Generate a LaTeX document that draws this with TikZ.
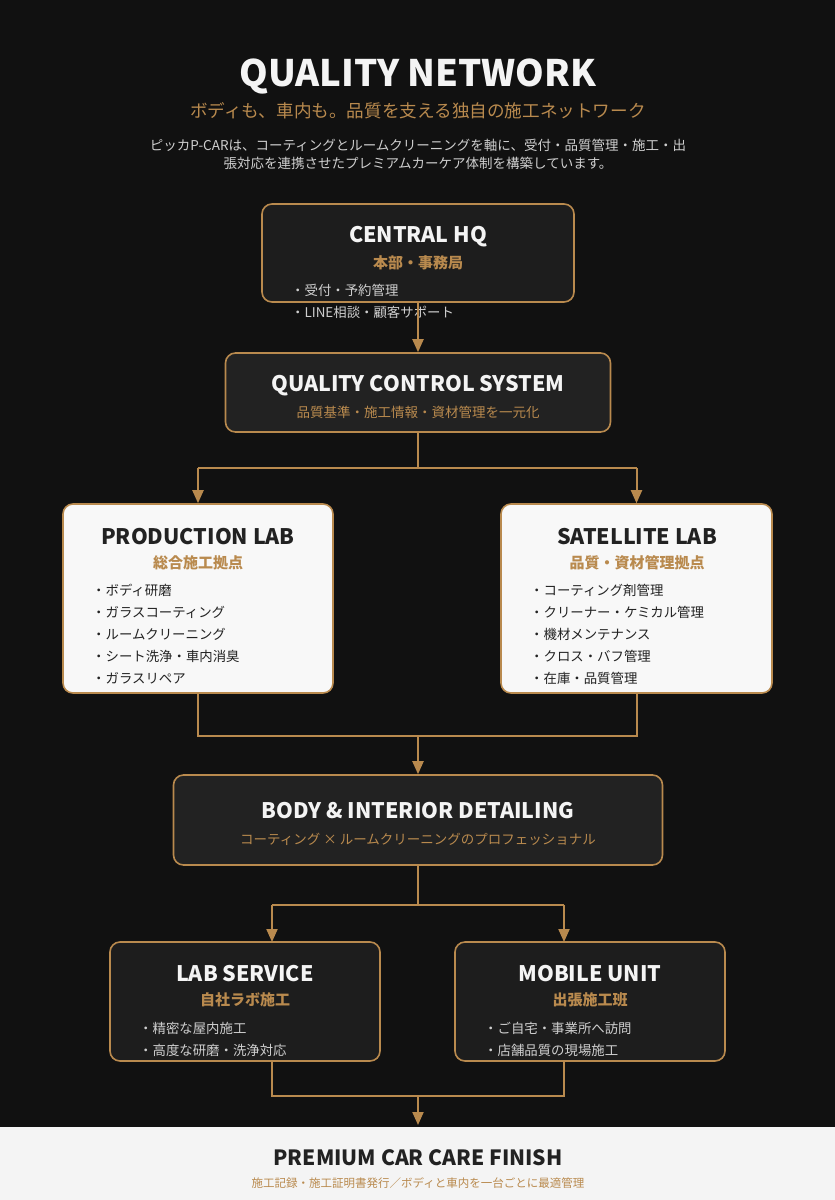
\documentclass[tikz,border=0pt]{standalone}
\usepackage{fontspec}
\setmainfont{Noto Sans CJK JP}
\usetikzlibrary{arrows.meta}
\definecolor{bg}{HTML}{111111}
\definecolor{gold}{HTML}{B98A4E}
\definecolor{boxdark}{HTML}{1D1D1D}
\definecolor{boxmid}{HTML}{222222}
\definecolor{boxlight}{HTML}{F8F8F8}
\definecolor{band}{HTML}{F4F4F4}
\definecolor{txtw}{HTML}{F4F4F4}
\definecolor{txtg}{HTML}{CFCFCF}
\definecolor{txtd}{HTML}{222222}
\tikzset{
  box/.style={draw=gold, line width=1.6pt, rounded corners=10pt, inner sep=0pt},
  ln/.style={draw=gold, line width=2pt},
  arr/.style={draw=gold, line width=2pt, -{Triangle[width=11pt,length=13pt]}},
  ttlw/.style={text=txtw, font=\fontsize{21.4}{25}\selectfont\bfseries, inner sep=0pt},
  ttld/.style={text=txtd, font=\fontsize{21.4}{25}\selectfont\bfseries, inner sep=0pt},
  subb/.style={text=gold, font=\fontsize{15}{18}\selectfont\bfseries, inner sep=0pt},
  subr/.style={text=gold, font=\fontsize{13.5}{16}\selectfont, inner sep=0pt},
  bulw/.style={text=txtg, font=\fontsize{13.4}{16}\selectfont, inner sep=0pt, anchor=west},
  buld/.style={text=txtd, font=\fontsize{13.4}{16}\selectfont, inner sep=0pt, anchor=west},
}
\begin{document}
\begin{tikzpicture}[x=1pt,y=-1pt]
\useasboundingbox (0,0) rectangle (835,1200);
\fill[bg] (0,0) rectangle (835,1127);
\fill[band] (0,1127) rectangle (835,1200);

% header
\node[text=txtw, font=\fontsize{36.5}{42}\selectfont\bfseries, inner sep=0pt] (title) at (418,76) {QUALITY NETWORK};
\node[text=gold, font=\fontsize{17.6}{20}\selectfont, inner sep=0pt] (subtitle) at (418,111) {ボディも、車内も。品質を支える独自の施工ネットワーク};
\node[text=txtg, font=\fontsize{13.5}{18}\selectfont, inner sep=0pt, align=center] (desc) at (418,154) {ピッカP-CARは、コーティングとルームクリーニングを軸に、受付・品質管理・施工・出\\張対応を連携させたプレミアムカーケア体制を構築しています。};

% boxes
\node[box, fill=boxdark, minimum width=312pt, minimum height=98pt] (hq) at (418,253) {};
\node[box, fill=boxmid, minimum width=385pt, minimum height=79pt] (qcs) at (418,392.5) {};
\node[box, fill=boxlight, minimum width=270pt, minimum height=189pt] (prod) at (198,598.5) {};
\node[box, fill=boxlight, minimum width=271pt, minimum height=189pt] (sat) at (636.5,598.5) {};
\node[box, fill=boxmid, minimum width=489pt, minimum height=90pt] (body) at (418,820) {};
\node[box, fill=boxdark, minimum width=270pt, minimum height=119pt] (lab) at (245,1001.5) {};
\node[box, fill=boxdark, minimum width=270pt, minimum height=119pt] (mob) at (590,1001.5) {};
\coordinate (fin) at (418,1125);
\coordinate (labIn) at (272,942);
\coordinate (mobIn) at (564,942);
\coordinate (labOut) at (272,1061);
\coordinate (mobOut) at (564,1061);

% texts in boxes
\node[ttlw] (hqT) at (418,237) {CENTRAL HQ};
\node[subb] (hqS) at (418,262.5) {本部・事務局};
\node[bulw] (hqB1) at (291,290) {・受付・予約管理};
\node[bulw] (hqB2) at (291,312) {・LINE相談・顧客サポート};

\node[ttlw] (qcsT) at (418,386) {QUALITY CONTROL SYSTEM};
\node[subr] (qcsS) at (418,412) {品質基準・施工情報・資材管理を一元化};

\node[ttld] (prodT) at (198,537) {PRODUCTION LAB};
\node[subb] (prodS) at (198,562.5) {総合施工拠点};
\foreach \t [count=\i] in {ボディ研磨,ガラスコーティング,ルームクリーニング,シート洗浄・車内消臭,ガラスリペア}
  \node[buld] (prodB\i) at (92,568+22*\i) {・\t};

\node[ttld] (satT) at (637,537) {SATELLITE LAB};
\node[subb] (satS) at (637,562.5) {品質・資材管理拠点};
\foreach \t [count=\i] in {コーティング剤管理,クリーナー・ケミカル管理,機材メンテナンス,クロス・バフ管理,在庫・品質管理}
  \node[buld] (satB\i) at (530,568+22*\i) {・\t};

\node[ttlw] (bodyT) at (418,811) {BODY \& INTERIOR DETAILING};
\node[subr] (bodyS) at (418,839) {コーティング × ルームクリーニングのプロフェッショナル};

\node[ttlw] (labT) at (245,974) {LAB SERVICE};
\node[subb] (labS) at (245,999.5) {自社ラボ施工};
\node[bulw] (labB1) at (139,1028) {・精密な屋内施工};
\node[bulw] (labB2) at (139,1050) {・高度な研磨・洗浄対応};

\node[ttlw] (mobT) at (590,974) {MOBILE UNIT};
\node[subb] (mobS) at (590,999.5) {出張施工班};
\node[bulw] (mobB1) at (484,1028) {・ご自宅・事業所へ訪問};
\node[bulw] (mobB2) at (484,1050) {・店舗品質の現場施工};

\node[text=txtd, font=\fontsize{21}{25}\selectfont\bfseries, inner sep=0pt] (finT) at (418,1158) {PREMIUM CAR CARE FINISH};
\node[text=gold, font=\fontsize{11.5}{14}\selectfont, inner sep=0pt] (finS) at (418,1183) {施工記録・施工証明書発行／ボディと車内を一台ごとに最適管理};

% connectors
\draw[arr] (hq.south) -- (qcs.north);
\coordinate (j1) at (418,468);
\draw[ln] (qcs.south) -- (j1);
\draw[ln] (j1 -| prod.north) -- (j1 -| sat.north);
\draw[arr] (j1 -| prod.north) -- (prod.north);
\draw[arr] (j1 -| sat.north) -- (sat.north);
\coordinate (j2) at (418,736);
\draw[ln] (prod.south) -- (j2 -| prod.south) -- (j2 -| sat.south) -- (sat.south);
\draw[arr] (j2) -- (body.north);
\coordinate (j3) at (418,905);
\draw[ln] (body.south) -- (j3);
\draw[ln] (j3 -| labIn) -- (j3 -| mobIn);
\draw[arr] (j3 -| labIn) -- (labIn);
\draw[arr] (j3 -| mobIn) -- (mobIn);
\coordinate (j4) at (418,1096);
\draw[ln] (labOut) -- (j4 -| labOut) -- (j4 -| mobOut) -- (mobOut);
\draw[arr] (j4) -- (fin);
\end{tikzpicture}
\end{document}
